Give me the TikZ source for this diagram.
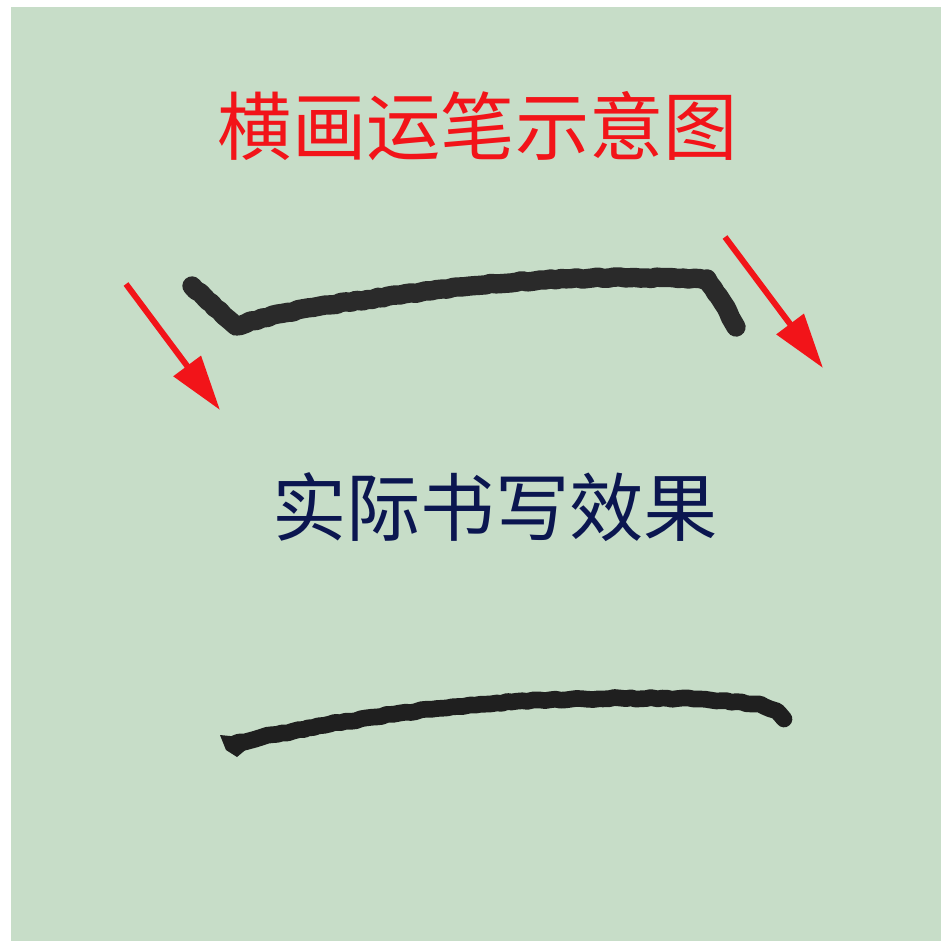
\documentclass[tikz,border=0pt]{standalone}
\usepackage{xcolor}
\usepackage{fontspec}
\usepackage{tikz}
\usetikzlibrary{arrows.meta,decorations.pathmorphing}
\newfontfamily\cjk{Noto Sans CJK SC}
\definecolor{paper}{HTML}{C7DDC8}
\definecolor{inkred}{HTML}{F21419}
\definecolor{navy}{HTML}{0B1650}
\definecolor{brush}{HTML}{2A2A2A}

\begin{document}
\begin{tikzpicture}[x=0.02cm, y=-0.02cm,
		caption/.style={font=\cjk\fontsize{42.3}{42.3}\selectfont, inner sep=0pt},
		brushline/.style={draw=brush, line width=11pt, line join=round, line cap=round,
			decorate, decoration={random steps, segment length=3pt, amplitude=0.5pt}},
		redarrow/.style={draw=inkred, line width=3.4pt, -{Triangle[length=1.1cm, width=0.66cm]}}]
				\fill[white] (0,0) rectangle (941,941);
				\fill[paper] (11,7) rectangle (941,941);
				\useasboundingbox (0,0) rectangle (941,941);
				
				\node (title) [caption, text=inkred] at (478,126) {横画运笔示意图};
				\node (result) [caption, text=navy] at (495,507) {实际书写效果};
				
				% brush strokes
				\draw[brushline] (192,286) -- (236,326) -- (262,318) -- (320,306) -- (400,295) -- (470,286)
					-- (540,280) -- (620,277) -- (707,279) -- (723,303) -- (736,327);
				\draw[brushline, draw=black!88, line width=9.5pt] (234,744) -- (262,737) -- (330,724) -- (400,713)
					-- (470,705) -- (540,700) -- (620,698) -- (700,699) -- (760,704) -- (777,711) -- (784,719);
				\fill[black!88] (220,735) -- (240,737) -- (249,747) -- (237,757) -- (226,750) -- cycle;
				
				% Arrows
				\coordinate (a1) at (126,284);
				\coordinate (b1) at (220,410);
				\coordinate (a2) at (725,237);
				\coordinate (b2) at (823,368);
				\draw[redarrow] (a1) -- (b1);
				\draw[redarrow] (a2) -- (b2);
		\end{tikzpicture}
\end{document}
